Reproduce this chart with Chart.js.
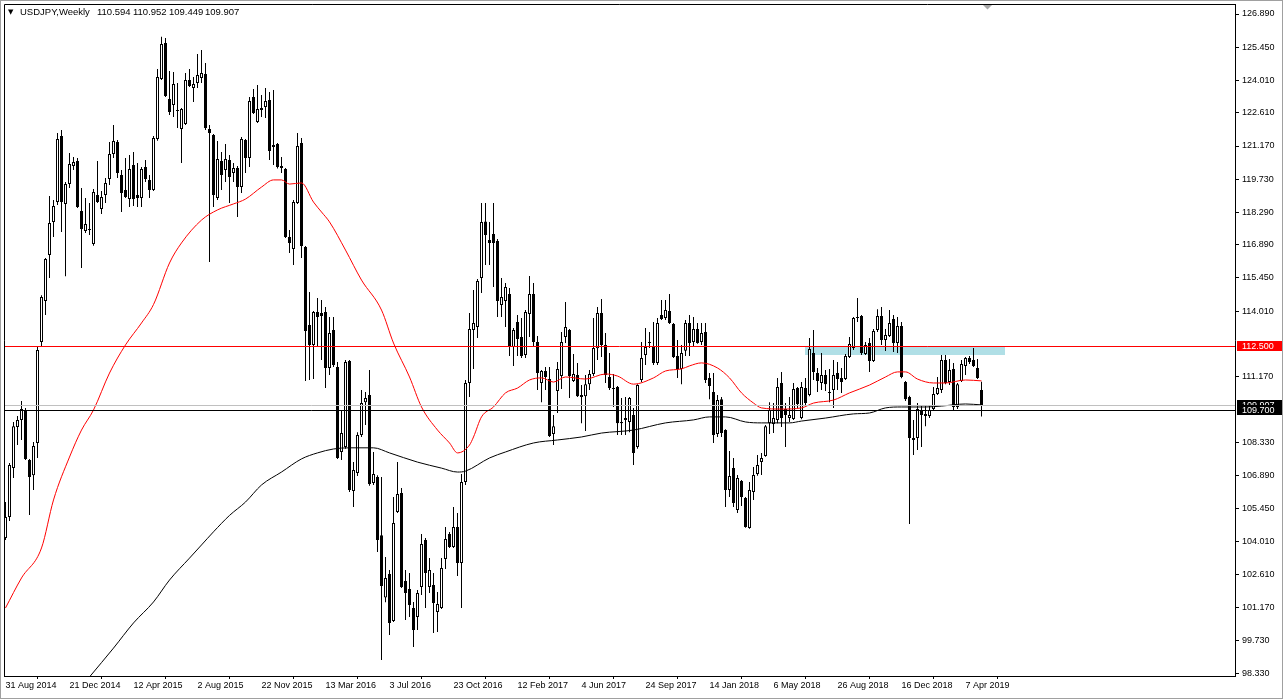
<!DOCTYPE html>
<html>
<head>
<meta charset="utf-8">
<title>USDJPY Weekly</title>
<script src="https://cdn.jsdelivr.net/npm/chart.js@4/dist/chart.umd.min.js"></script>
<style>
  html, body { margin: 0; padding: 0; background: #fff; }
  #wrap { width: 1283px; height: 699px; }
</style>
</head>
<body>
<div id="wrap"><canvas id="usdjpy" width="1283" height="699"></canvas></div>
<script>
// weekly candles, first one is the week of 31 Aug 2014
const opens = [
  104.18,105.09,107.21,108.99,109.30,109.69,107.56,106.90,108.30,112.68,
  114.45,116.45,117.88,118.74,121.60,118.66,119.52,120.30,120.52,118.35,
  117.49,117.53,116.92,119.05,118.44,119.05,119.74,120.82,121.34,119.91,
  119.26,118.87,120.35,119.05,118.92,120.26,119.70,119.26,121.47,124.07,
  125.63,123.21,122.95,122.73,121.91,122.12,124.03,123.68,123.90,124.12,
  124.29,121.91,121.65,118.92,120.52,120.13,120.56,120.00,120.22,119.39,
  121.43,120.65,123.29,122.21,122.73,122.86,123.16,121.21,121.26,120.30,
  120.17,117.23,116.71,118.70,121.30,116.79,113.41,112.55,113.98,113.93,
  113.98,111.55,113.20,111.59,107.91,108.12,111.85,106.22,107.00,108.64,
  110.07,110.38,106.56,106.82,104.30,101.60,102.62,100.58,105.31,106.13,
  102.32,101.97,101.15,100.76,102.06,104.09,102.06,102.14,100.98,101.15,
  103.27,104.35,103.79,104.66,103.10,106.61,110.90,113.20,113.33,115.45,
  117.90,117.10,117.36,117.05,114.28,114.45,114.76,112.46,113.54,112.89,
  112.11,113.89,114.76,112.68,110.90,111.42,111.07,108.69,110.55,111.20,
  112.89,113.20,110.99,111.25,110.38,110.33,110.85,111.29,112.40,113.93,
  112.55,111.16,110.68,110.73,109.21,109.30,109.21,109.51,108.12,111.03,
  112.11,112.63,112.46,111.77,113.85,113.72,114.02,113.46,112.07,111.51,
  112.30,113.50,112.68,113.24,112.68,113.11,111.12,110.51,108.69,110.20,
  108.86,106.26,107.21,105.39,106.65,105.91,104.61,106.17,106.95,107.47,
  107.73,109.16,109.12,109.30,110.90,109.77,109.38,109.34,110.68,109.38,
  110.68,110.38,112.20,111.33,110.90,111.25,110.51,110.60,111.33,111.12,
  111.07,112.03,112.42,113.72,113.80,112.16,112.63,111.85,113.20,113.80,
  112.76,112.94,113.67,112.63,113.37,110.94,110.29,108.51,108.51,109.69,
  109.47,109.47,109.77,110.42,110.60,111.90,110.94,111.51,109.86,110.99,
  111.64,111.98,111.90,111.55,110.594
];
const highs = [
  105.74,107.43,109.21,109.47,110.12,109.82,107.61,108.34,112.50,114.70,
  116.32,119.00,118.83,121.73,121.86,119.61,120.87,120.69,120.65,119.35,
  118.92,118.70,119.31,120.52,119.22,119.78,121.34,122.08,121.43,120.13,
  120.65,120.78,120.91,120.43,120.26,120.56,119.91,121.60,124.51,125.90,
  125.85,124.42,124.38,123.90,122.82,124.33,124.51,124.16,125.16,125.33,
  124.77,122.08,121.69,121.39,120.91,121.26,120.78,120.43,120.30,121.56,
  121.47,123.29,123.64,123.81,123.38,123.68,123.51,123.60,121.30,120.69,
  120.22,117.53,118.83,121.73,121.52,116.84,114.84,114.02,114.58,114.50,
  114.19,113.76,113.76,111.81,109.73,111.90,111.90,107.47,108.77,110.60,
  110.51,111.46,107.91,106.90,106.82,103.36,102.79,105.96,107.47,106.35,
  102.79,102.66,101.41,101.93,104.35,104.18,103.31,102.66,101.84,103.31,
  104.66,104.44,105.52,105.26,106.95,111.03,113.93,114.93,115.41,118.70,
  118.70,117.88,118.70,117.14,115.45,115.23,115.02,113.28,113.85,113.72,
  114.06,115.54,115.23,112.94,111.46,111.59,111.59,109.51,111.81,113.11,
  114.41,113.24,112.16,111.77,110.81,111.25,111.46,113.72,114.19,114.54,
  113.07,112.20,111.29,110.77,110.25,110.29,110.29,109.82,110.85,112.68,
  113.28,113.11,113.54,113.72,114.50,114.50,114.76,113.50,112.76,112.55,
  113.63,113.85,113.76,113.50,113.50,113.50,111.33,111.33,110.38,110.29,
  108.90,107.95,107.65,106.91,106.69,105.96,106.61,107.26,107.78,107.86,
  109.08,110.07,110.03,111.12,111.38,110.03,110.29,110.90,110.73,110.94,
  111.12,112.85,113.20,111.55,112.20,111.46,111.51,111.90,111.81,111.55,
  112.16,112.89,113.76,114.58,113.85,112.68,112.85,113.24,114.10,114.19,
  113.24,114.06,113.85,113.76,113.54,110.99,110.35,109.30,110.03,109.95,
  109.95,109.95,110.73,111.16,112.11,112.11,111.94,111.77,110.90,111.90,
  112.03,112.07,112.42,111.94,110.952
];
const lows = [
  104.09,104.92,106.78,108.21,108.43,107.56,105.18,106.26,107.65,112.46,
  113.85,115.45,117.23,118.61,117.44,115.53,119.35,120.13,118.48,115.88,
  117.40,117.31,116.85,118.70,118.22,118.70,119.48,120.65,119.78,118.31,
  118.92,118.53,118.57,118.53,118.53,119.61,118.92,119.22,121.40,124.03,
  123.29,122.51,122.43,121.95,120.43,122.08,123.73,123.08,123.68,123.90,
  121.86,116.14,118.53,118.83,119.26,119.61,118.70,119.61,118.09,119.13,
  120.00,120.26,122.56,122.17,122.43,122.38,120.56,120.35,120.20,120.00,
  117.18,116.53,116.01,118.66,116.32,110.99,111.03,111.07,112.46,111.90,
  110.68,111.25,111.59,107.60,107.56,108.05,106.17,105.52,106.87,108.56,
  109.08,106.45,106.48,103.57,98.89,101.40,99.98,100.54,105.26,102.01,
  100.63,100.76,99.46,100.19,101.71,101.15,101.80,100.06,100.11,101.10,
  102.84,103.75,103.75,102.53,101.15,106.48,110.29,111.51,112.85,114.80,
  116.01,116.01,115.06,113.76,113.76,113.33,112.07,111.64,112.07,111.98,
  111.98,112.89,112.46,110.60,110.07,110.60,108.56,108.21,109.60,110.64,
  112.63,110.25,110.94,110.29,109.16,108.82,110.60,111.20,111.90,112.03,
  110.90,110.60,109.86,108.64,108.64,108.64,108.77,107.35,108.05,110.94,
  111.68,112.42,111.68,111.68,113.63,113.63,113.46,111.98,111.12,110.85,
  112.07,112.07,112.50,112.60,112.55,110.90,110.20,108.30,108.56,108.56,
  105.52,105.96,105.52,105.26,105.57,104.63,104.58,105.83,106.88,106.91,
  107.70,108.69,108.73,109.16,108.99,108.12,109.21,109.30,109.82,109.33,
  109.95,110.33,111.03,110.51,110.60,110.55,110.07,109.82,110.60,110.47,
  111.03,111.98,112.33,113.54,112.11,112.11,111.38,111.81,113.11,112.55,
  112.29,112.89,112.24,112.20,111.10,110.12,104.79,107.78,108.00,108.12,
  109.03,109.38,109.73,110.38,110.47,110.85,110.81,109.73,109.77,110.94,
  111.25,111.72,111.59,111.07,109.449
];
const closes = [
  105.09,107.35,109.03,109.30,109.77,107.61,106.82,108.17,112.33,114.63,
  116.27,117.83,118.57,121.47,118.74,119.52,120.39,120.48,118.53,117.57,
  117.79,117.57,119.18,118.74,118.96,119.57,120.82,121.39,120.00,119.13,
  118.96,120.17,118.87,118.92,120.17,119.74,119.26,121.52,124.16,125.59,
  123.34,122.64,123.86,122.69,122.77,124.03,123.77,123.86,124.25,124.33,
  121.95,121.73,119.05,120.61,119.91,120.61,119.83,120.22,119.39,121.47,
  120.65,123.12,122.60,122.77,122.82,123.12,120.95,121.13,120.26,120.22,
  117.23,116.97,118.74,121.17,116.84,113.15,112.55,113.98,113.76,113.80,
  111.55,113.07,111.68,107.65,108.73,111.81,106.26,107.13,108.64,110.03,
  110.25,106.52,106.95,104.09,102.10,102.45,100.50,104.83,106.09,102.06,
  101.80,101.28,100.19,101.80,103.92,102.66,102.79,101.36,101.32,102.88,
  104.14,103.79,104.66,103.10,106.61,110.90,113.24,113.50,115.32,117.88,
  117.31,116.97,116.97,114.45,114.63,115.06,112.50,113.20,112.81,112.07,
  113.98,114.76,112.68,111.33,111.42,111.16,108.60,109.03,111.51,112.68,
  113.33,111.20,111.29,110.33,110.29,110.85,111.29,112.42,113.93,112.55,
  111.25,110.68,110.64,109.16,109.16,109.38,110.25,107.86,110.81,111.98,
  112.46,112.65,111.77,113.50,113.67,114.06,113.50,112.03,111.51,112.20,
  113.50,112.63,113.24,112.63,113.07,111.03,110.77,108.64,110.16,108.73,
  106.26,106.87,105.70,106.78,105.96,104.66,106.26,106.91,107.35,107.65,
  109.03,109.73,109.38,110.73,109.38,109.51,109.51,110.64,109.99,110.73,
  110.03,112.37,111.38,110.99,111.25,110.85,110.47,111.25,111.07,110.94,
  112.07,112.59,113.72,113.76,112.20,112.55,111.85,113.15,113.80,112.76,
  112.98,113.50,112.63,113.37,111.16,110.20,108.51,108.43,109.77,109.51,
  109.56,109.73,110.42,110.68,111.90,110.90,111.46,109.86,110.85,111.72,
  111.98,111.81,111.64,111.12,109.907
];

// moving averages (candle index -> price)
const redMaIdx = [0,4,9,12,16,19,22,26,30,34,37,41,44,49,53,57,60,64,67,69,71,74,77,79,81,85,89,94,97,101,
  104,108,111,113,116,117,119,122,125,128,131,134,137,140,145,150,153,157,162,165,169,171,174,178,181,184,187,189,194,199,
  202,207,211,216,220,223,225,228,232,235,240,244];
const redMaVals = [101.15,102.45,103.75,105.83,107.69,108.86,109.73,111.33,112.55,113.50,114.30,116.10,116.97,117.96,118.40,118.66,118.87,119.39,119.70,119.70,
  119.52,119.57,118.74,118.31,117.88,116.66,115.36,114.06,112.63,111.16,109.86,108.86,108.30,107.87,108.21,108.56,109.43,109.86,110.47,110.68,
  111.03,111.12,110.94,111.16,111.07,111.29,111.20,110.85,111.12,111.42,111.51,111.64,111.77,111.55,111.12,110.47,110.03,109.82,109.77,109.82,
  110.03,110.16,110.47,110.81,111.16,111.38,111.38,111.07,110.90,110.90,111.03,110.99];
const blackMaIdx = [21,27,32,37,41,46,49,52,56,60,64,69,74,78,82,86,92,96,103,109,
  113,115,121,125,132,138,144,149,157,165,172,176,180,185,189,196,199,205,212,216,220,224,230,234,240,244];
const blackMaVals = [98.16,99.41,100.50,101.41,102.36,103.31,103.88,104.45,105.16,105.74,106.48,107.04,107.61,107.87,108.04,108.09,108.09,107.87,107.47,107.21,
  107.04,107.08,107.65,107.91,108.30,108.43,108.56,108.73,108.86,109.17,109.30,109.43,109.43,109.21,109.17,109.17,109.25,109.38,109.56,109.60,
  109.82,109.86,109.86,109.90,109.99,109.95];

// axis labels
const dateLabels = ['31 Aug 2014','21 Dec 2014','12 Apr 2015','2 Aug 2015','22 Nov 2015','13 Mar 2016','3 Jul 2016','23 Oct 2016',
  '12 Feb 2017','4 Jun 2017','24 Sep 2017','14 Jan 2018','6 May 2018','26 Aug 2018','16 Dec 2018','7 Apr 2019'];
const labelStep = 16;
const priceTicks = [126.89,125.45,124.01,122.61,121.17,119.73,118.29,116.89,115.45,114.01,111.17,108.33,106.89,105.45,104.01,102.61,101.17,99.73,98.33];

// objects on the chart
const symbolTitle = 'USDJPY,Weekly';
const headerVals = ['110.594','110.952','109.449','109.907'];
const resistance = 112.5;
const support = 109.7;
const bid = 109.907;
const zoneIdx = [199.9, 249.9];
const zonePrice = [112.52, 112.11];

const idx = opens.map((_, i) => i);
const wickData = idx.map(i => ({ x: i, y: [lows[i], highs[i]] }));
const bodyData = idx.map(i => ({ x: i, y: [opens[i], closes[i]] }));
const bodyFill = idx.map(i => closes[i] >= opens[i] ? '#ffffff' : '#000000');
const redMa = redMaIdx.map((x, k) => ({ x: x, y: redMaVals[k] }));
const blackMa = blackMaIdx.map((x, k) => ({ x: x, y: blackMaVals[k] }));

const FONT = 'Liberation Sans';

// keep the plot area where it is, whatever the tick labels want
function noScalePadding(s) {
  s.paddingTop = 0;
  s.paddingBottom = 0;
  s.paddingLeft = 0;
  s.paddingRight = 0;
}

const overlay = {
  id: 'overlay',
  beforeDatasetsDraw(chart) {
    const { ctx, chartArea: a, scales: { x, y } } = chart;
    ctx.save();
    ctx.beginPath();
    ctx.rect(a.left, a.top, a.right - a.left, a.bottom - a.top);
    ctx.clip();
    const x0 = x.getPixelForValue(zoneIdx[0]), x1 = x.getPixelForValue(zoneIdx[1]);
    const y0 = y.getPixelForValue(zonePrice[0]), y1 = y.getPixelForValue(zonePrice[1]);
    ctx.fillStyle = '#b0dfe6';
    ctx.fillRect(Math.round(x0), Math.round(y0), Math.round(x1 - x0), Math.round(y1 - y0));
    ctx.restore();
  },
  afterDatasetsDraw(chart) {
    const { ctx, chartArea: a, scales: { y } } = chart;
    ctx.save();
    ctx.lineWidth = 1;
    [[bid, '#c0c0c0'], [support, '#000000'], [resistance, '#ff0000']].forEach(([p, col]) => {
      const py = Math.floor(y.getPixelForValue(p)) + 0.5;
      ctx.strokeStyle = col;
      ctx.beginPath();
      ctx.moveTo(a.left, py);
      ctx.lineTo(a.right, py);
      ctx.stroke();
    });
    ctx.restore();
  },
  afterDraw(chart) {
    const { ctx, chartArea: a, scales: { y } } = chart;
    ctx.save();
    // window border
    ctx.strokeStyle = '#a0a0a0';
    ctx.lineWidth = 1;
    ctx.strokeRect(0.5, 0.5, chart.width - 1, chart.height - 1);
    // left and top frame
    ctx.strokeStyle = '#000';
    ctx.beginPath();
    ctx.moveTo(a.left + 0.5, a.bottom);
    ctx.lineTo(a.left + 0.5, a.top + 0.5);
    ctx.lineTo(a.right, a.top + 0.5);
    ctx.stroke();
    // chart shift marker
    ctx.fillStyle = '#a8a8a8';
    ctx.beginPath();
    ctx.moveTo(983, 5);
    ctx.lineTo(992, 5);
    ctx.lineTo(987.5, 9.5);
    ctx.closePath();
    ctx.fill();
    // header
    ctx.fillStyle = '#000';
    ctx.textAlign = 'left';
    ctx.textBaseline = 'middle';
    ctx.font = '7px "DejaVu Sans"';
    ctx.fillText('\u25BC', 8, 12.5);
    ctx.font = '9.5px "' + FONT + '"';
    ctx.fillText(symbolTitle, 20, 12.5);
    headerVals.forEach((v, k) => ctx.fillText(v, 97 + 36 * k, 12.5));
    // price tags on the axis
    ctx.font = '9px "' + FONT + '"';
    [[bid, '#000000'], [support, '#000000'], [resistance, '#ff0000']].forEach(([p, col]) => {
      const py = Math.floor(y.getPixelForValue(p));
      ctx.fillStyle = col;
      ctx.fillRect(a.right + 2, py - 5, chart.width - a.right - 3, 10);
      ctx.fillStyle = '#ffffff';
      ctx.fillText(p.toFixed(3), a.right + 7, py + 0.5);
    });
    ctx.restore();
  }
};

const ctx = document.getElementById('usdjpy').getContext('2d');
new Chart(ctx, {
  data: {
    datasets: [
      {
        type: 'line', data: redMa, borderColor: '#ff0000', borderWidth: 1,
        pointRadius: 0, cubicInterpolationMode: 'monotone', order: 0
      },
      {
        type: 'line', data: blackMa, borderColor: '#000000', borderWidth: 1,
        pointRadius: 0, cubicInterpolationMode: 'monotone', order: 0
      },
      {
        type: 'bar', data: bodyData, backgroundColor: bodyFill, borderColor: '#000000',
        borderWidth: 1, borderSkipped: false, barThickness: 3, grouped: false,
        inflateAmount: 0, minBarLength: 1, order: 1
      },
      {
        type: 'bar', data: wickData, backgroundColor: '#000000', borderWidth: 0,
        barThickness: 1, grouped: false, inflateAmount: 0, order: 2
      }
    ]
  },
  options: {
    responsive: false,
    animation: false,
    events: [],
    layout: { padding: { left: 4, top: 4, right: 0, bottom: 0 } },
    plugins: { legend: { display: false }, tooltip: { enabled: false } },
    scales: {
      x: {
        type: 'linear', position: 'bottom', min: -0.375, max: 307.375, offset: false,
        afterBuildTicks: s => { s.ticks = dateLabels.map((_, k) => ({ value: k * labelStep })); },
        afterFit: s => { s.height = 23; noScalePadding(s); },
        grid: { drawOnChartArea: false, drawTicks: true, tickLength: 3, color: '#000' },
        border: { display: true, color: '#000' },
        ticks: {
          autoSkip: false, maxRotation: 0, align: 'start', padding: 1, color: '#000',
          font: { family: FONT, size: 9 },
          callback: (v, k) => dateLabels[k]
        }
      },
      y: {
        type: 'linear', position: 'right', min: 98.201, max: 127.324,
        afterBuildTicks: s => { s.ticks = priceTicks.map(v => ({ value: v })); },
        afterFit: s => { s.width = 48; noScalePadding(s); },
        grid: { drawOnChartArea: false, drawTicks: true, tickLength: 4, color: '#000' },
        border: { display: true, color: '#000' },
        ticks: {
          autoSkip: false, padding: 3, color: '#000',
          font: { family: FONT, size: 9 },
          callback: v => v.toFixed(3)
        }
      }
    }
  },
  plugins: [overlay]
});
</script>
</body>
</html>
